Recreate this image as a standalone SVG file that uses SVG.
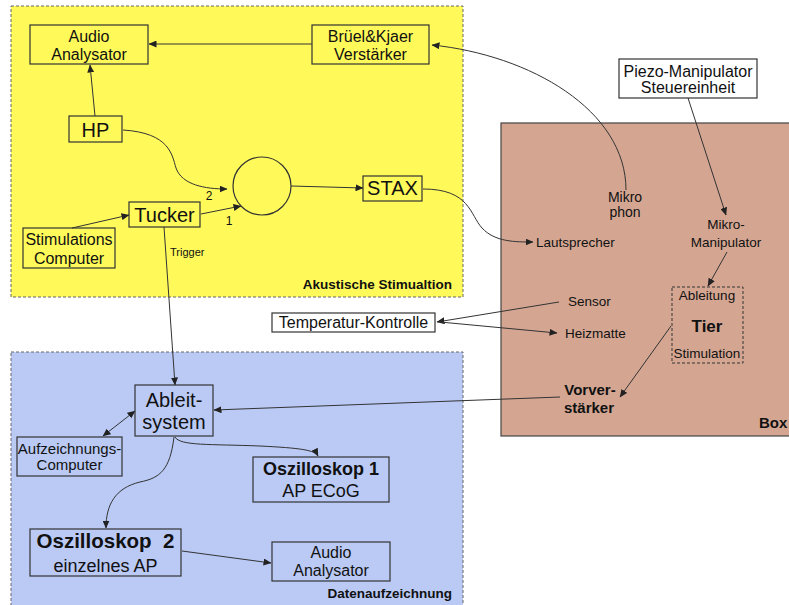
<svg xmlns="http://www.w3.org/2000/svg" width="789" height="605" viewBox="0 0 789 605">
<style>
text{font-family:"Liberation Sans",Arial,sans-serif;fill:#111;text-anchor:middle}
.b{font-weight:bold}
.box{fill:none;stroke:#333;stroke-width:1.2}
.wbox{fill:#fff;stroke:#333;stroke-width:1.2}
.c{fill:none;stroke:#333;stroke-width:1}
.a{marker-end:url(#ah)}
.s{fill:#333}
</style>
<defs>
<marker id="ah" markerWidth="8" markerHeight="7" refX="7.5" refY="3.5" orient="auto" markerUnits="userSpaceOnUse"><path d="M0,0 L8,3.5 L0,7 z" fill="#222"/></marker>
<marker id="as" markerWidth="8" markerHeight="7" refX="0.5" refY="3.5" orient="auto" markerUnits="userSpaceOnUse"><path d="M8,0 L0,3.5 L8,7 z" fill="#222"/></marker>
</defs>
<rect width="789" height="605" fill="#fff"/>
<g id="region-akustik">
<rect x="11" y="6" width="452" height="291" fill="#FFFA5A" stroke="#666" stroke-width="1" stroke-dasharray="3,2"/>
<text class="b" x="452" y="289" font-size="13.5" style="text-anchor:end">Akustische Stimualtion</text>
</g>
<g id="region-daten">
<rect x="11" y="352" width="452" height="260" fill="#BACAF5" stroke="#666" stroke-width="1" stroke-dasharray="3,2"/>
<text class="b" x="452" y="598" font-size="13.5" style="text-anchor:end">Datenaufzeichnung</text>
</g>
<g id="region-box">
<rect x="501" y="123" width="300" height="313" fill="#D4A692" stroke="#444" stroke-width="1.2"/>
<text class="b" x="759" y="428" font-size="15" style="text-anchor:start">Box</text>
</g>
<g id="connectors">
<path class="c a" d="M312 44 L149 44"/>
<path class="c a" d="M626 190 C626 110 530 55 432 45"/>
<path class="c a" d="M95 116 L90 65"/>
<path class="c a" d="M123 130 C170 133 172 155 176 168 C182 185 205 189 227 189"/>
<path class="c a" d="M72 228 L129 215"/>
<path class="c a" d="M201 214 L241 206"/>
<path class="c a" d="M291 186 L363 188"/>
<path class="c a" d="M423 189 C470 189 470 215 482 228 C495 242 515 242 533 242"/>
<path class="c a" d="M164 227 L175 385"/>
<path class="c a" d="M688 98 L726 215"/>
<path class="c a" d="M727 252 L708 286"/>
<path class="c a" d="M671 326 L620 397"/>
<path class="c a" d="M560 397 L214 410"/>
<path class="c a" d="M559 302 L437 322"/>
<path class="c a" d="M440 322 L557 333"/>
<path class="c a" style="marker-start:url(#as)" d="M103 436 L135 411"/>
<path class="c a" d="M175 437 C180 446 210 444 260 446 C300 448 315 450 318 456"/>
<path class="c a" d="M174 437 C170 470 160 478 140 482 C115 488 106 505 106 528"/>
<path class="c a" d="M182 551 L271 563"/>
</g>
<g id="audio1"><rect class="box" x="30" y="25" width="118" height="39"/><text x="89" y="41.5" font-size="16">Audio</text><text x="89" y="60" font-size="16">Analysator</text></g>
<g id="bruel"><rect class="box" x="312" y="25" width="117" height="39"/><text x="370.5" y="41.5" font-size="16">Brüel&amp;Kjaer</text><text x="370.5" y="60" font-size="16">Verstärker</text></g>
<g id="hp"><rect class="box" x="69" y="116" width="53" height="26"/><text x="95.5" y="137" font-size="20">HP</text></g>
<g id="mixer"><circle cx="262" cy="186" r="29" fill="none" stroke="#333" stroke-width="1.2"/></g>
<g id="labels-mixer"><text x="209" y="200" font-size="12">2</text><text x="229" y="225" font-size="12">1</text><text x="170" y="256" font-size="11" style="text-anchor:start">Trigger</text></g>
<g id="tucker"><rect class="box" x="129" y="202" width="71" height="25"/><text x="164.5" y="222" font-size="20">Tucker</text></g>
<g id="stimcomp"><rect class="box" x="23" y="228" width="92" height="40"/><text x="69" y="244.5" font-size="16">Stimulations</text><text x="69" y="264" font-size="16">Computer</text></g>
<g id="stax"><rect class="box" x="363" y="176" width="59" height="25"/><text x="392.5" y="195" font-size="20">STAX</text></g>
<g id="piezo"><rect class="wbox" x="619" y="59" width="138" height="39"/><text x="688" y="77" font-size="16">Piezo-Manipulator</text><text x="688" y="93" font-size="16">Steuereinheit</text></g>
<g id="mikrophon"><text x="625" y="202" font-size="14">Mikro</text><text x="625" y="217" font-size="14">phon</text></g>
<g id="lautsprecher"><text x="536" y="247" font-size="13.5" style="text-anchor:start">Lautsprecher</text></g>
<g id="mikromanipulator"><text x="726" y="229" font-size="13.5">Mikro-</text><text x="726" y="247" font-size="13.5">Manipulator</text></g>
<g id="tier"><rect x="672" y="287" width="71" height="76" fill="none" stroke="#333" stroke-width="1" stroke-dasharray="3,2"/><text x="707" y="300" font-size="13.5">Ableitung</text><text class="b" x="707" y="332" font-size="17">Tier</text><text x="707" y="358" font-size="13.5">Stimulation</text></g>
<g id="sensor"><text x="568" y="306" font-size="13.5" style="text-anchor:start">Sensor</text></g>
<g id="heizmatte"><text x="565" y="338" font-size="13.5" style="text-anchor:start">Heizmatte</text></g>
<g id="vorverstaerker"><text class="b" x="590" y="395" font-size="15">Vorver-</text><text class="b" x="589" y="413" font-size="15">stärker</text></g>
<g id="temperatur"><rect class="wbox" x="272" y="313" width="163" height="19"/><text x="353.5" y="328" font-size="16">Temperatur-Kontrolle</text></g>
<g id="ableitsystem"><rect class="box" x="135" y="385" width="78" height="51"/><text x="174" y="407" font-size="20">Ableit-</text><text x="174" y="429" font-size="20">system</text></g>
<g id="aufzeichnung"><rect class="box" x="17" y="437" width="105" height="39"/><text x="69.5" y="454" font-size="15">Aufzeichnungs-</text><text x="69.5" y="470" font-size="15">Computer</text></g>
<g id="oszi1"><rect class="box" x="253" y="457" width="136" height="45"/><text class="b" x="321" y="475" font-size="18">Oszilloskop 1</text><text x="321" y="497" font-size="18">AP ECoG</text></g>
<g id="oszi2"><rect class="box" x="30" y="529" width="151" height="47"/><text class="b" x="105.5" y="548" font-size="20.5" xml:space="preserve">Oszilloskop  2</text><text x="105.5" y="572" font-size="18">einzelnes AP</text></g>
<g id="audio2"><rect class="box" x="272" y="542" width="118" height="39"/><text x="331" y="558" font-size="16">Audio</text><text x="331" y="576" font-size="16">Analysator</text></g>
</svg>
